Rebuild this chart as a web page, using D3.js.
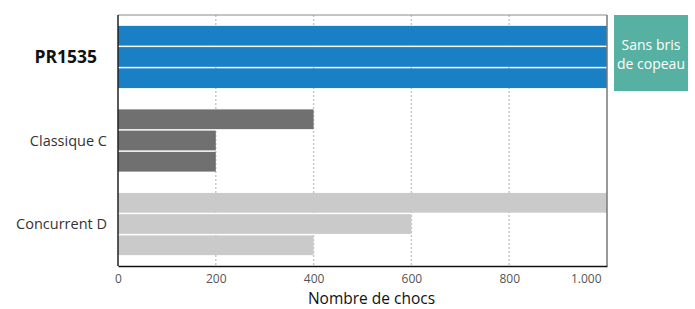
<!DOCTYPE html>
<html><head><meta charset="utf-8">
<script src="https://cdn.jsdelivr.net/npm/d3@7"></script>
<style>body{margin:0;background:#fff;} svg{display:block;font-family:"Open Sans",sans-serif;}</style>
</head><body>
<svg id="c" width="695" height="309"></svg>
<script>
const categories = ["PR1535", "Classique C", "Concurrent D"];
const seriesValues = [
  [1000, 1000, 1000],
  [400, 200, 200],
  [1000, 600, 400]
];
const tickValues = [0, 200, 400, 600, 800, 1000];
const tickLabels = ["0", "200", "400", "600", "800", "1.000"];
const colors = ["#1a80c5", "#707070", "#c9cac9"];
const axisTitle = "Nombre de chocs";
const noteLines = ["Sans bris", "de copeau"];

const svg = d3.select("#c");
const m = {l: 118, r: 607, t: 15, b: 266};
const x = d3.scaleLinear().domain([0, 1000]).range([m.l, m.r]);
const y = d3.scaleBand().domain(categories).range([m.t, m.b]).paddingInner(0.255).paddingOuter(0.13);
const ySub = d3.scaleBand().domain([0,1,2]).range([0, y.bandwidth()]).paddingInner(0.07);

// gridlines
svg.append("g").selectAll("line").data(tickValues.slice(1, -1)).join("line")
  .attr("x1", d => x(d)).attr("x2", d => x(d))
  .attr("y1", m.t).attr("y2", m.b)
  .attr("stroke", "#c8c8c8").attr("stroke-width", 1.5).attr("stroke-dasharray", "2,2");

// bars
categories.forEach((c, i) => {
  svg.append("g").selectAll("rect").data(seriesValues[i]).join("rect")
    .attr("x", x(0)).attr("y", (d, j) => y(c) + ySub(j))
    .attr("width", d => x(d) - x(0)).attr("height", ySub.bandwidth())
    .attr("fill", colors[i]);
});

// frame
svg.append("line").attr("x1", m.l).attr("x2", m.r).attr("y1", m.t).attr("y2", m.t).attr("stroke", "#8a8a8a").attr("stroke-width", 1);
svg.append("line").attr("x1", m.r).attr("x2", m.r).attr("y1", m.t).attr("y2", m.b).attr("stroke", "#777").attr("stroke-width", 1.5);
svg.append("line").attr("x1", m.l).attr("x2", m.l).attr("y1", m.t).attr("y2", m.b).attr("stroke", "#222").attr("stroke-width", 1.5);

// x axis
const xAxis = d3.axisBottom(x).tickValues(tickValues).tickSize(0).tickPadding(8)
  .tickFormat((d, i) => tickLabels[i]);
const gx = svg.append("g").attr("transform", `translate(0,${m.b})`).call(xAxis);
gx.select(".domain").attr("stroke", "#111").attr("stroke-width", 1.5);
gx.selectAll("text").attr("font-size", 12).attr("fill", "#555").attr("font-family", "Open Sans");
gx.selectAll(".tick").filter(d => d === 1000).select("text").attr("text-anchor", "end").attr("dx", -6);

svg.append("text").attr("x", (m.l + m.r) / 2 + 9).attr("y", 304).attr("text-anchor", "middle")
  .attr("font-size", 15.5).attr("fill", "#111").text(axisTitle);

// y labels
svg.append("g").selectAll("text").data(categories).join("text")
  .attr("x", (d, i) => i === 0 ? 97 : 107)
  .attr("y", (d, i) => y(d) + y.bandwidth() / 2 + (i === 0 ? 6 : 5))
  .attr("text-anchor", "end")
  .attr("font-size", (d, i) => i === 0 ? 17.5 : 14.5)
  .attr("font-weight", (d, i) => i === 0 ? "bold" : "normal")
  .attr("fill", (d, i) => i === 0 ? "#111" : "#333")
  .text(d => d);

// note box
svg.append("rect").attr("x", 614).attr("y", 15).attr("width", 74).attr("height", 76).attr("fill", "#57b1a2");
svg.append("g").selectAll("text").data(noteLines).join("text")
  .attr("x", 651).attr("y", (d, i) => 50 + i * 19).attr("text-anchor", "middle")
  .attr("font-size", 14).attr("fill", "#fff").text(d => d);
</script>
</body></html>
